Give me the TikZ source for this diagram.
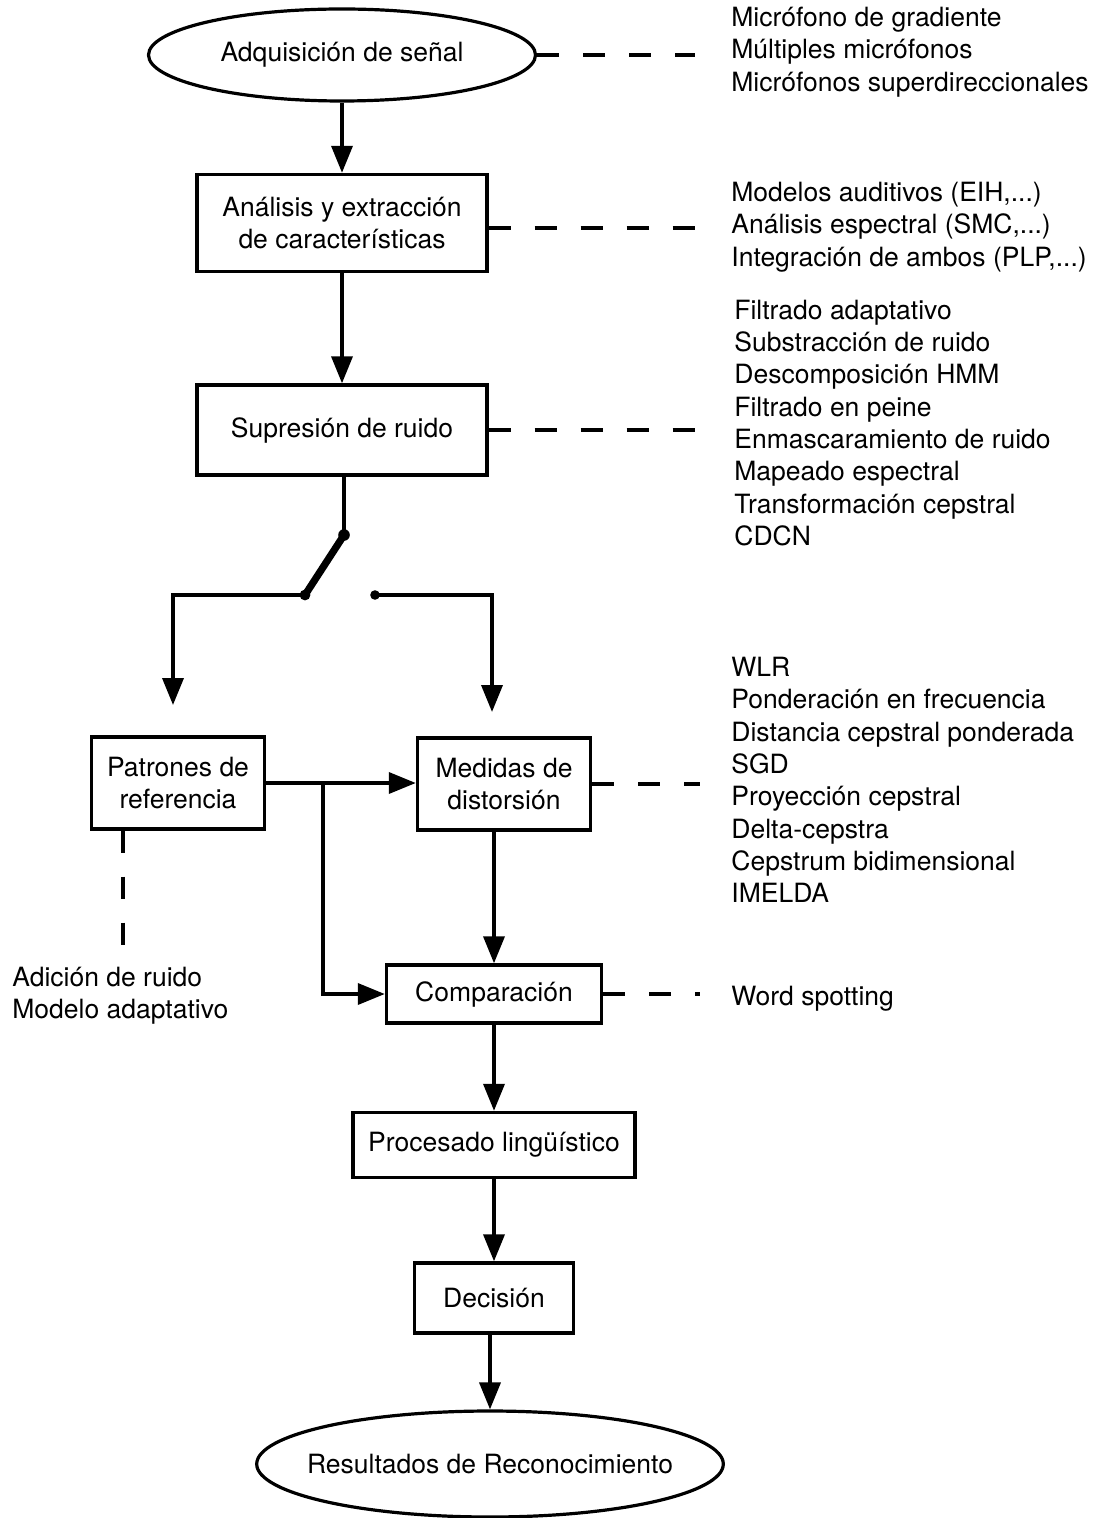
\documentclass[tikz,border=0pt]{standalone}
\usepackage{fontspec}
\setmainfont{TeX Gyre Heros}
\usetikzlibrary{arrows.meta,shapes.geometric}

\tikzset{
  box/.style={draw, line width=1.7pt, inner sep=0pt, align=center},
  oval/.style={ellipse, draw, line width=1.6pt, inner sep=0pt},
  flow/.style={line width=1.8pt, -{Triangle[length=13.5pt,width=10.5pt]}},
  wire/.style={line width=1.8pt},
  link/.style={line width=1.7pt, dash pattern=on 11pt off 12pt},
  notes/.style={anchor=west, align=left, inner sep=0pt},
}

\begin{document}
\begin{tikzpicture}[x=0.5pt, y=-0.5pt,
    every node/.append style={font=\fontsize{13.25}{16.15}\selectfont}]
    \useasboundingbox (0,0) rectangle (1103,1518);

    % main chain
    \node[oval, minimum width=193.5pt, minimum height=46pt] (adq) at (342,55)
      {Adquisición de señal};
    \node[box, minimum width=145pt, minimum height=48.5pt] (anal) at (342,223)
      {Análisis y extracción\\de características};
    \node[box, minimum width=145pt, minimum height=45pt] (supr) at (342,430)
      {Supresión de ruido};
    \node[box, minimum width=86.5pt, minimum height=46pt] (patr) at (178,783)
      {Patrones de\\referencia};
    \node[box, minimum width=86.5pt, minimum height=46pt] (medi) at (504,784)
      {Medidas de\\distorsión};
    \node[box, minimum width=107.5pt, minimum height=29pt] (comp) at (494,994)
      {Comparación};
    \node[box, minimum width=141pt, minimum height=32.5pt] (proc) at (494,1145)
      {Procesado lingüístico};
    \node[box, minimum width=79.5pt, minimum height=35pt] (deci) at (494,1298)
      {Decisión};
    \node[oval, inner xsep=-9pt, minimum width=232pt, minimum height=53pt] (resu)
      at (490,1464) {Resultados de Reconocimiento};

    % notes
    \node[notes] (nadq) at (731,52)
      {Micrófono de gradiente\\Múltiples micrófonos\\Micrófonos superdireccionales};
    \node[notes] (nanal) at (731,227)
      {Modelos auditivos (EIH,...)\\Análisis espectral (SMC,...)\\Integración de ambos (PLP,...)};
    \node[notes] (nsupr) at (734,423)
      {Filtrado adaptativo\\Substracción de ruido\\Descomposición HMM\\Filtrado en peine\\
       Enmascaramiento de ruido\\Mapeado espectral\\Transformación cepstral\\CDCN};
    \node[notes] (nmedi) at (731,780)
      {WLR\\Ponderación en frecuencia\\Distancia cepstral ponderada\\SGD\\
       Proyección cepstral\\Delta-cepstra\\Cepstrum bidimensional\\IMELDA};
    \node[notes] (ncomp) at (731,999) {Word spotting};
    \node[notes] (npatr) at (12,996) {Adición de ruido\\Modelo adaptativo};

    % dashed links
    \coordinate (eadq) at (695,55);
    \coordinate (eanal) at (697,228);
    \coordinate (esupr) at (700,430);
    \coordinate (emedi) at (700,784);
    \coordinate (ecomp) at (700,994);
    \coordinate (epatr) at (123,945);
    \draw[link] (adq.east) -- (eadq);
    \draw[link] (anal.east |- eanal) -- (eanal);
    \draw[link] (supr.east) -- (esupr);
    \draw[link] (medi.east) -- (emedi);
    \draw[link] (comp.east) -- (ecomp);
    \draw[link] (patr.south -| epatr) -- (epatr);

    % arrows
    \draw[flow] (adq.south -| anal.north) -- (anal.north);
    \draw[flow] (anal) -- (supr);

    % switch
    \coordinate (pivot) at (344,535);
    \coordinate (contA) at (305,595);
    \coordinate (contB) at (375,595);
    \coordinate (tipL) at (173,705);
    \coordinate (tipR) at (492,712);
    \draw[wire] (supr.south -| pivot) -- (pivot);
    \draw[line width=3.6pt, line cap=round] (pivot) -- (contA);
    \fill (pivot) circle (2.9pt);
    \fill (contA) circle (2.7pt);
    \fill (contB) circle (2.4pt);
    \draw[flow] (contA) -| (tipL);
    \draw[flow] (contB) -| (tipR);

    \coordinate (fork) at (323,783);
    \draw[flow] (patr.east |- fork) -- (medi.west |- fork);
    \draw[flow] (fork) |- (comp.west);
    \draw[flow] (medi.south -| comp.north) -- (comp.north);
    \draw[flow] (comp) -- (proc);
    \draw[flow] (proc) -- (deci);
    \draw[flow] (deci.south -| resu.north) -- (resu.north);
\end{tikzpicture}
\end{document}
